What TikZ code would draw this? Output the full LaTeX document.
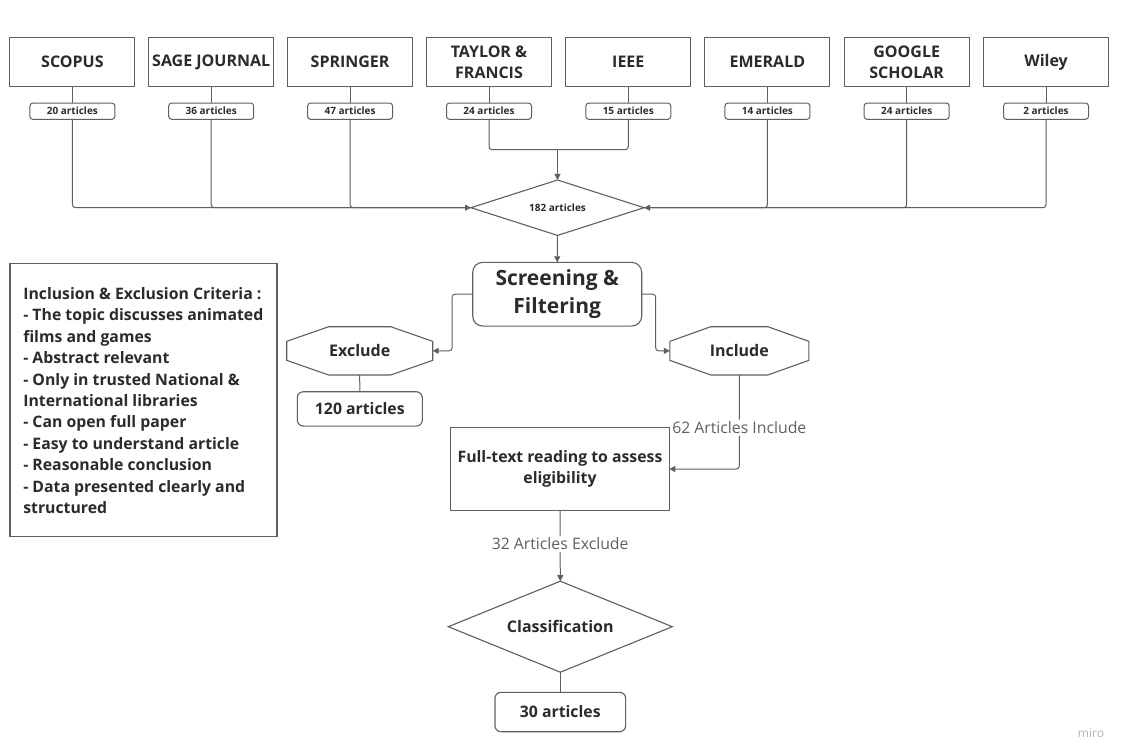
\documentclass[tikz,border=0pt]{standalone}
\usepackage{fontspec}
\setmainfont{Open Sans}
\usetikzlibrary{arrows.meta}
\definecolor{ln}{HTML}{5F5F5F}
\definecolor{tx}{HTML}{2B2B2B}
\definecolor{lab}{HTML}{606060}
\begin{document}
\begin{tikzpicture}[x=1pt,y=-1pt,
  every node/.style={inner sep=0pt,outer sep=0pt,text=tx},
  srcbox/.style={draw=ln,line width=1.1pt,minimum width=125pt,minimum height=49pt,align=center,font=\fontsize{16}{21.6}\selectfont\bfseries},
  artbox/.style={draw=ln,line width=1pt,rounded corners=3pt,minimum width=85pt,minimum height=16.3pt,font=\fontsize{10}{12}\selectfont\bfseries},
  rbox/.style={draw=ln,line width=1.1pt,rounded corners=6pt,font=\fontsize{15.8}{20}\selectfont\bfseries},
  octline/.style={draw=ln,line width=1.1pt},
  octtext/.style={font=\fontsize{16}{20}\selectfont\bfseries},
  conn/.style={draw=ln,line width=1pt,rounded corners=3pt},
  arr/.style={conn,-{Triangle[length=6pt,width=6pt]}},
  lab/.style={fill=white,inner xsep=1pt,inner ysep=2pt,text=lab,font=\fontsize{15.8}{18}\selectfont}
]
\fill[white] (0,0) rectangle (1129,754);
\useasboundingbox (0,0) rectangle (1129,754);

% source boxes
\node[srcbox] (s1) at (72.4,62.2) {SCOPUS};
\node[srcbox] (s2) at (211.2,62.2) {SAGE JOURNAL};
\node[srcbox] (s3) at (350.1,62.2) {SPRINGER};
\node[srcbox] (s4) at (489.0,62.2) {TAYLOR \&\\FRANCIS};
\node[srcbox] (s5) at (628.3,62.2) {IEEE};
\node[srcbox] (s6) at (767.4,62.2) {EMERALD};
\node[srcbox] (s7) at (906.7,62.2) {GOOGLE\\SCHOLAR};
\node[srcbox] (s8) at (1046.0,62.2) {Wiley};

% article count boxes
\node[artbox] (a1) at (72.4,111.2) {20 articles};
\node[artbox] (a2) at (211.2,111.2) {36 articles};
\node[artbox] (a3) at (350.1,111.2) {47 articles};
\node[artbox] (a4) at (489.0,111.2) {24 articles};
\node[artbox] (a5) at (628.3,111.2) {15 articles};
\node[artbox] (a6) at (767.4,111.2) {14 articles};
\node[artbox] (a7) at (906.7,111.2) {24 articles};
\node[artbox] (a8) at (1046.0,111.2) {2 articles};

\foreach \i in {1,...,8} {\draw[conn] (s\i) -- (a\i);}

% 182 diamond
\node[minimum width=173pt,minimum height=55.4pt,font=\fontsize{10}{12}\selectfont\bfseries] (d182) at (557.5,207.7) {182 articles};
\draw[octline] (d182.west) -- (d182.north) -- (d182.east) -- (d182.south) -- cycle;

\coordinate (jn) at (557.5,149.7);
\draw[conn] (a4) |- (jn);
\draw[conn] (a5) |- (jn);
\draw[arr] (jn) -- (d182.north);

\draw[conn] (a2) |- (d182.west);
\draw[conn] (a3) |- (d182.west);
\draw[arr] (a1) |- (d182.west);
\draw[conn] (a6) |- (d182.east);
\draw[conn] (a7) |- (d182.east);
\draw[arr] (a8) |- (d182.east);

% screening
\node[draw=ln,line width=1.1pt,rounded corners=10pt,minimum width=169pt,minimum height=63.7pt,align=center,font=\fontsize{21}{28.3}\selectfont\bfseries] (scr) at (557.2,294.2) {Screening \&\\Filtering};
\draw[arr] (d182.south) -- (scr.north);

% exclude octagon
\node[octtext,minimum width=146pt,minimum height=48.3pt] (excl) at (359.7,350.85) {Exclude};
\draw[octline] ([xshift=42pt]excl.north west) -- ([xshift=-42pt]excl.north east) -- ([yshift=9.5pt]excl.east) -- ([yshift=-9.5pt]excl.east) -- ([xshift=-42pt]excl.south east) -- ([xshift=42pt]excl.south west) -- ([yshift=-9.5pt]excl.west) -- ([yshift=9.5pt]excl.west) -- cycle;

% include octagon
\node[octtext,minimum width=139pt,minimum height=48.3pt] (incl) at (739.3,350.85) {Include};
\draw[octline] ([xshift=41pt]incl.north west) -- ([xshift=-41pt]incl.north east) -- ([yshift=9.5pt]incl.east) -- ([yshift=-9.5pt]incl.east) -- ([xshift=-41pt]incl.south east) -- ([xshift=41pt]incl.south west) -- ([yshift=-9.5pt]incl.west) -- ([yshift=9.5pt]incl.west) -- cycle;

\draw[arr] (scr.west) -- ++(-20.6,0) |- (excl.east);
\draw[arr] (scr.east) -- ++(14,0) |- (incl.west);

% 120 articles
\node[rbox,minimum width=125pt,minimum height=34.3pt] (r120) at (359.8,408.9) {120 articles};
\draw[conn] (excl.south) -- (r120.north);

% full text
\node[draw=ln,line width=1.1pt,minimum width=218.6pt,minimum height=83.4pt,align=center,font=\fontsize{15.8}{20.7}\selectfont\bfseries] (full) at (560,469) {Full-text reading to assess\\eligibility};
\draw[arr] (incl.south) |- node[lab,pos=0.28] (l62) {62 Articles Include} (full.east);

% classification
\node[minimum width=224pt,minimum height=91pt,font=\fontsize{16}{20}\selectfont\bfseries] (cls) at (560.3,626.7) {Classification};
\draw[octline] (cls.west) -- (cls.north) -- (cls.east) -- (cls.south) -- cycle;
\draw[arr] (full.south) -- node[lab,pos=0.47] (l32) {32 Articles Exclude} (cls.north);

% 30 articles
\node[rbox,minimum width=130.7pt,minimum height=39.4pt] (r30) at (560.3,712) {30 articles};
\draw[conn] (cls.south) -- (r30.north);

% criteria box
\node[draw=ln,line width=1.1pt,minimum width=267pt,minimum height=272.7pt] (crit) at (143.5,399.7) {};
\node[anchor=west,align=left,font=\fontsize{15.8}{21.4}\selectfont\bfseries] (crittext) at (23.3,400.5) {Inclusion \& Exclusion Criteria :\\
- The topic discusses animated\\
films and games\\
- Abstract relevant\\
- Only in trusted National \&\\
International libraries\\
- Can open full paper\\
- Easy to understand article\\
- Reasonable conclusion\\
- Data presented clearly and\\
structured};

% watermark
\node[text=black!30,font=\fontsize{12}{14}\selectfont] (miro) at (1091,733) {miro};
\end{tikzpicture}
\end{document}
